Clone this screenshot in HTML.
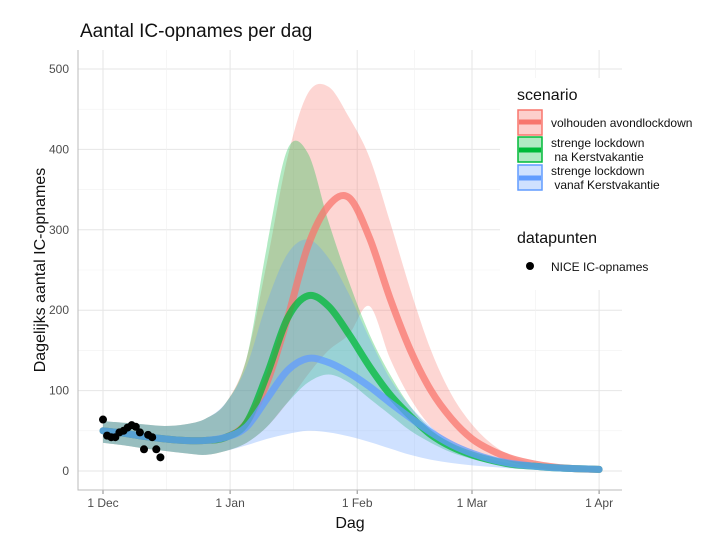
<!DOCTYPE html>
<html><head><meta charset="utf-8"><style>
body{margin:0;background:#fff;font-family:"Liberation Sans",sans-serif}
svg text{font-family:"Liberation Sans",sans-serif}
</style></head><body>
<svg width="714" height="534" xmlns="http://www.w3.org/2000/svg">
<text x="80" y="37" font-size="19" fill="#111">Aantal IC-opnames per dag</text>
<g id="grid"></g>
<g id="bands"></g>
<g id="lines"></g>
<g id="pts"></g>
<g id="axes"></g>
<text x="350" y="528" font-size="16" text-anchor="middle" fill="#111">Dag</text>
<text transform="translate(45,270) rotate(-90)" font-size="16" text-anchor="middle" fill="#111">Dagelijks aantal IC-opnames</text>
<g>
<rect x="500" y="78" width="214" height="212" fill="#fff"/>
<text x="517" y="100" font-size="16" fill="#111">scenario</text>
<g><rect x="518" y="110" width="24" height="25" fill="rgba(248,118,109,0.35)" stroke="#F8766D" stroke-width="1.5"/><line x1="519" y1="122" x2="541" y2="122" stroke="#F8766D" stroke-width="5"/><text x="551" y="127" font-size="12" fill="#111">volhouden avondlockdown</text></g>
<g><rect x="518" y="137" width="24" height="25" fill="rgba(0,186,56,0.3)" stroke="#00BA38" stroke-width="1.5"/><line x1="519" y1="150" x2="541" y2="150" stroke="#00BA38" stroke-width="5"/><text x="551" y="147" font-size="12" fill="#111">strenge lockdown</text><text x="551" y="161" font-size="12" fill="#111" xml:space="preserve"> na Kerstvakantie</text></g>
<g><rect x="518" y="165" width="24" height="25" fill="rgba(97,156,255,0.3)" stroke="#619CFF" stroke-width="1.5"/><line x1="519" y1="178" x2="541" y2="178" stroke="#619CFF" stroke-width="5"/><text x="551" y="175" font-size="12" fill="#111">strenge lockdown</text><text x="551" y="189" font-size="12" fill="#111" xml:space="preserve"> vanaf Kerstvakantie</text></g>
<text x="517" y="243" font-size="16" fill="#111">datapunten</text>
<g><circle cx="530" cy="266" r="4" fill="#000"/><text x="551" y="271" font-size="12" fill="#111">NICE IC-opnames</text></g>
</g>
</svg>
<script>
const days=[0,5,10,15,20,25,30,35,40,45,50,55,60,65,70,75,80,85,90,95,100,105,110,115,121];
const redMean=[50,47,43,40,38,38,42,60,110,190,280,330,340,290,215,150,100,65,40,25,15,9,5,3,2];
const redLow=[35,32,28,25,22,20,25,35,55,85,120,150,170,205,140,90,55,35,22,14,9,6,4,3,2];
const redHigh=[62,60,58,56,58,65,85,140,260,390,470,478,440,390,310,225,150,95,58,33,18,10,6,4,2];
const greenMean=[50,47,43,40,38,38,42,60,120,190,218,205,170,130,95,68,45,30,20,13,8,6,4,3,2];
const greenLow=[35,32,28,25,22,20,25,35,55,85,110,120,110,90,70,50,35,23,15,9,6,4,3,2,1];
const greenHigh=[62,60,58,56,58,65,85,140,280,400,395,310,235,170,120,80,52,34,22,14,9,6,4,3,2];
const blueMean=[50,47,43,40,38,38,42,55,90,125,140,135,122,105,85,66,48,33,22,14,9,6,4,3,2];
const blueLow=[35,32,28,25,22,20,25,32,40,46,50,48,43,36,28,20,14,10,7,5,3,2,2,1,1];
const blueHigh=[62,60,58,56,58,65,85,130,210,270,288,265,220,165,115,80,55,35,22,14,9,6,4,3,2];
const ptDays=[0,1,2,3,4,5,6,7,8,9,10,11,12,13,14];
const ptVals=[64,44,42,42,48,50,54,57,55,48,27,45,42,27,17];
const yTicks=[0,100,200,300,400,500];
const xTickDays=[0,31,62,90,121];
const xTickLabels=["1 Dec","1 Jan","1 Feb","1 Mar","1 Apr"];
const NS="http://www.w3.org/2000/svg";
const X=d=>103+d*4.1, Y=v=>471-v*0.804;
const L=78,R=622,T=50,B=490;
function mk(tag,attrs,parent){const e=document.createElementNS(NS,tag);for(const k in attrs)e.setAttribute(k,attrs[k]);document.getElementById(parent).appendChild(e);return e;}
function smooth(pts,start){let d=start?'M'+pts[0][0]+','+pts[0][1]:' L'+pts[0][0]+','+pts[0][1];
for(let i=0;i<pts.length-1;i++){const p0=pts[Math.max(i-1,0)],p1=pts[i],p2=pts[i+1],p3=pts[Math.min(i+2,pts.length-1)];
const c1=[p1[0]+(p2[0]-p0[0])/6,p1[1]+(p2[1]-p0[1])/6],c2=[p2[0]-(p3[0]-p1[0])/6,p2[1]-(p3[1]-p1[1])/6];
d+=` C${c1[0]},${c1[1]} ${c2[0]},${c2[1]} ${p2[0]},${p2[1]}`;}return d;}
yTicks.forEach((v,i)=>{const l=mk('line',{x1:L,x2:R,y1:Y(v),y2:Y(v),stroke:'#e6e6e6','stroke-width':1},'grid');


if(i<yTicks.length-1){const m=mk('line',{x1:L,x2:R,y1:Y(v+50),y2:Y(v+50),stroke:'#f1f1f1','stroke-width':0.6},'grid');

}
const t=mk('text',{x:69,y:Y(v)+4,'font-size':12,'text-anchor':'end',fill:'#4d4d4d'},'axes');t.textContent=v;

});
xTickDays.forEach((d,i)=>{const l=mk('line',{x1:X(d),x2:X(d),y1:T,y2:B,stroke:'#e6e6e6','stroke-width':1},'grid');


if(i<xTickDays.length-1){const md=(d+xTickDays[i+1])/2;const m=mk('line',{x1:X(md),x2:X(md),y1:T,y2:B,stroke:'#f1f1f1','stroke-width':0.6},'grid');

}
const tk=mk('line',{x1:X(d),x2:X(d),y1:B,y2:B+4,stroke:'#888'},'axes');


const t=mk('text',{x:X(d),y:B+17,'font-size':12,'text-anchor':'middle',fill:'#4d4d4d'},'axes');t.textContent=xTickLabels[i];

});
const ax=mk('path',{d:`M${L},${T} V${B} H${R}`,fill:'none',stroke:'#bbb'},'axes');


function band(lo,hi,col,name){const up=days.map((x,i)=>[X(x),Y(hi[i])]);
const dn=days.map((x,i)=>[X(x),Y(lo[i])]).reverse();
const d=smooth(up,true)+smooth(dn,false)+'Z';
const p=mk('path',{d:d,fill:col,'fill-opacity':0.3,stroke:'none'},'bands');

}
band(redLow,redHigh,'#F8766D','band-volhouden');
band(greenLow,greenHigh,'#00BA38','band-na-kerst');
band(blueLow,blueHigh,'#619CFF','band-vanaf-kerst');
function line(m,col,name){const p=mk('path',{d:smooth(days.map((x,i)=>[X(x),Y(m[i])]),true),fill:'none',stroke:col,'stroke-width':7,'stroke-opacity':0.75,'stroke-linejoin':'round','stroke-linecap':'round'},'lines');

}
line(redMean,'#F8766D','line-volhouden');
line(greenMean,'#00BA38','line-na-kerst');
line(blueMean,'#619CFF','line-vanaf-kerst');
ptDays.forEach((d,i)=>{const c=mk('circle',{cx:X(d),cy:Y(ptVals[i]),r:4,fill:'#000'},'pts');

});
</script>
</body></html>
